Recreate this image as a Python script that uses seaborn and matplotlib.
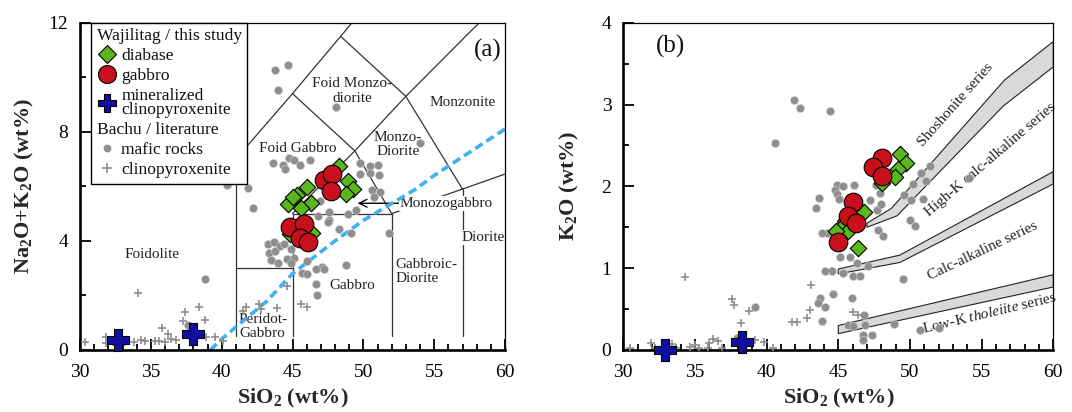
import numpy as np
import matplotlib
matplotlib.use("Agg")
import matplotlib.pyplot as plt
from matplotlib.lines import Line2D
import seaborn as sns

sns.set_theme(style="ticks")
plt.rcParams['font.family'] = ['Liberation Serif', 'DejaVu Serif']
plt.rcParams['mathtext.fontset'] = 'custom'
plt.rcParams['mathtext.rm'] = 'Liberation Serif'
plt.rcParams['mathtext.it'] = 'Liberation Serif:italic'
plt.rcParams['mathtext.bf'] = 'Liberation Serif:bold'

GREEN = '#5ab71f'
RED = '#c8101c'
BLUE = '#1010a0'
GRAY = '#8e8e8e'
LINE = '#333333'

# ---------------- panel (a) data: TAS ----------------
a_diabase_x = [48.25, 48.95, 49.3, 48.75, 44.7, 45.35, 46.05, 46.3, 45.6, 45.05, 46.4, 44.85]
a_diabase_y = [6.76, 6.2, 5.92, 5.73, 5.35, 5.69, 5.99, 5.38, 5.22, 5.6, 4.3, 4.25]
a_gabbro_x = [47.2, 47.8, 47.7, 44.8, 45.8, 45.55, 46.1]
a_gabbro_y = [6.25, 6.45, 5.82, 4.5, 4.62, 4.1, 3.95]
a_mincpx_x = [32.7, 38.0]
a_mincpx_y = [0.35, 0.6]
a_mafic_x = [43.8, 44.7, 43.95, 48.1, 54.0,
             40.4, 41.85, 42.2,
             43.6, 44.3, 44.45, 44.75, 45.1, 45.5, 46.2,
             49.8, 50.5, 51.05, 50.5, 49.8, 51.1, 50.6, 51.2, 50.75, 49.5, 48.95, 47.6,
             46.95, 47.6, 49.15, 48.3, 51.8, 46.8, 47.5,
             43.25, 43.7, 43.35, 43.8, 44.15, 44.4, 44.9, 44.6, 45.1, 43.5,
             47.1, 46.05, 44.0, 44.9, 45.65, 46.0, 46.65, 47.2, 48.75, 46.65, 46.7,
             38.8, 37.6, 45.0]
a_mafic_y = [10.25, 10.45, 9.53, 8.9, 7.6,
             6.05, 5.95, 5.2,
             6.85, 6.8, 6.62, 7.05, 6.98, 6.8, 6.98,
             6.85, 6.75, 6.8, 6.5, 6.45, 6.4, 5.85, 5.78, 5.62, 5.12, 5.0, 5.05,
             5.45, 4.75, 4.3, 4.45, 4.3, 4.9, 4.7,
             3.87, 3.97, 3.55, 3.64, 3.81, 3.9, 3.72, 3.33, 3.38, 3.3,
             3.05, 3.25, 3.2, 3.2, 2.84, 2.78, 2.96, 2.96, 3.1, 2.42, 2.03,
             2.6, 0.9, 4.28]
a_cpx_x = [30.35, 31.8, 31.8, 32.3, 33.2, 33.8, 34.3, 34.6, 35.3, 35.55, 35.8, 36.2,
           36.45, 36.0, 36.8, 34.1, 37.4, 38.4, 38.8, 37.25, 38.9, 39.5, 40.1,
           41.7, 42.6, 42.8, 43.9, 41.5, 45.6, 46.0, 44.6]
a_cpx_y = [0.28, 0.48, 0.25, 0.3, 0.3, 0.3, 0.36, 0.33, 0.32, 0.33, 0.8, 0.58,
           0.4, 0.3, 0.35, 2.1, 1.4, 1.57, 1.1, 1.05, 0.48, 0.46, 0.33,
           1.58, 1.68, 1.52, 1.55, 1.42, 1.7, 1.58, 2.35]

# Irvine & Baragar alkaline / subalkaline divide
ib_x = [39.2, 40, 43.2, 45, 48, 50, 53.7, 55, 60]
ib_y = [0, 0.4, 1.8, 2.8, 4, 4.75, 5.9, 6.4, 8.1]

# field boundaries (Middlemost 1994, plutonic)
tas_lines = [
    ([41, 41], [0.5, 7]),
    ([41, 45, 48.4, 49.2], [7, 9.4, 11.5, 12]),
    ([45, 49.4, 52], [9.4, 7.3, 5]),
    ([45, 49.4, 53, 57.6, 58.2], [5, 7.3, 9.3, 11.7, 12]),
    ([48.4, 53, 57, 60], [11.5, 9.3, 5.9, 6.45]),
    ([45, 45], [0.5, 5]),
    ([41, 45], [3, 3]),
    ([45, 52], [5, 5]),
    ([52, 52], [0.5, 5]),
    ([52, 57], [5, 5.9]),
    ([57, 57], [0.5, 5.9]),
]

# ---------------- panel (b) data: K2O vs SiO2 ----------------
b_diabase_x = [49.3, 49.7, 49.15, 48.95, 48.05, 46.4, 46.8, 45.5, 45.3, 45.7, 44.85, 46.4]
b_diabase_y = [2.39, 2.28, 2.21, 2.12, 2.04, 1.72, 1.69, 1.58, 1.52, 1.46, 1.45, 1.25]
b_gabbro_x = [48.05, 47.4, 48.05, 46.05, 45.7, 46.25, 45.0]
b_gabbro_y = [2.35, 2.24, 2.13, 1.81, 1.64, 1.55, 1.32]
b_mincpx_x = [32.9, 38.25]
b_mincpx_y = [0.0, 0.1]
b_mafic_x = [41.9, 42.3, 44.4, 40.6,
             51.4, 50.8, 51.1, 50.2, 54.1, 49.6, 50.1, 50.9, 50.0, 50.35,
             44.9, 45.3, 44.75, 44.9, 45.05, 46.1, 43.65, 43.45, 47.6, 47.9, 47.2,
             47.7, 48.0, 47.8, 48.1,
             44.2, 43.85, 45.1, 45.8, 46.3, 47.1, 44.55, 45.35, 46.05, 46.5, 49.5,
             44.6, 43.7, 43.55, 44.07, 43.84, 45.98, 45.7, 46.05, 46.8, 46.86, 46.74,
             47.33, 46.74, 48.9, 50.7, 52.0, 39.2, 37.9, 44.1]
b_mafic_y = [3.05, 2.96, 2.92, 2.53,
             2.25, 2.16, 2.07, 2.03, 2.1, 1.89, 1.83, 1.85, 1.59, 1.52,
             2.02, 2.01, 1.96, 1.91, 1.84, 2.02, 1.86, 1.73, 2.02, 1.92, 1.83,
             1.71, 1.79, 1.47, 1.39,
             1.43, 1.43, 1.14, 1.14, 1.06, 1.03, 0.96, 0.94, 0.9, 0.9, 0.87,
             0.69, 0.64, 0.57, 0.52, 0.35, 0.63, 0.31, 0.29, 0.43, 0.31, 0.18,
             0.18, 0.12, 0.32, 0.25, 0.27, 0.53, 0.15, 0.96]
b_cpx_x = [30.5, 31.9, 32.2, 33.4, 33.7, 34.3, 34.65, 35.0, 35.3, 35.9, 36.25, 36.6,
           36.9, 36.0, 37.6, 37.75, 38.8, 38.2, 39.2, 39.8, 40.45, 41.8, 42.1,
           42.8, 43.0, 43.1, 46.0, 46.4, 44.55]
b_cpx_y = [0.02, 0.08, 0.03, 0.07, 0.02, 0.89, 0.04, 0.06, 0.02, 0.03, 0.13, 0.11,
           0.03, 0.08, 0.62, 0.55, 0.48, 0.33, 0.12, 0.1, 0.02, 0.34, 0.34,
           0.39, 0.49, 0.8, 0.47, 0.43, 0.96]

# series boundary bands (upper edge, lower edge)
sho_up_x, sho_up_y = [47.0, 48.7, 56.6, 60], [1.55, 1.73, 3.3, 3.77]
sho_lo_x, sho_lo_y = [47.0, 49.1, 56.5, 60], [1.50, 1.64, 2.98, 3.46]
hk_up_x, hk_up_y = [45, 49.3, 60], [0.99, 1.16, 2.18]
hk_lo_x, hk_lo_y = [45, 49.3, 60], [0.93, 1.07, 2.03]
lk_up_x, lk_up_y = [45, 60], [0.30, 0.92]
lk_lo_x, lk_lo_y = [45, 60], [0.20, 0.77]
bands = [(sho_up_x, sho_up_y, sho_lo_x, sho_lo_y),
         (hk_up_x, hk_up_y, hk_lo_x, hk_lo_y),
         (lk_up_x, lk_up_y, lk_lo_x, lk_lo_y)]

fig = plt.figure(figsize=(10.72, 4.12), dpi=100)
ax_a = fig.add_axes([80 / 1072, 1 - 350 / 412, 425 / 1072, 327.3 / 412])
ax_b = fig.add_axes([623.3 / 1072, 1 - 350 / 412, 430 / 1072, 327.3 / 412])


def draw_samples(ax, mafic, cpx, diabase, gabbro, mincpx):
    sns.scatterplot(x=mafic[0], y=mafic[1], ax=ax, color=GRAY, s=34, marker='o',
                    edgecolor='#d0d0d0', linewidth=0.4, zorder=3, legend=False)
    sns.scatterplot(x=cpx[0], y=cpx[1], ax=ax, color=GRAY, s=40, marker='+',
                    linewidth=1.2, zorder=3, legend=False)
    sns.scatterplot(x=diabase[0], y=diabase[1], ax=ax, color=GREEN, s=70, marker='D',
                    edgecolor='black', linewidth=0.8, zorder=4, legend=False)
    sns.scatterplot(x=gabbro[0], y=gabbro[1], ax=ax, color=RED, s=180, marker='o',
                    edgecolor='black', linewidth=0.8, zorder=5, legend=False)
    sns.scatterplot(x=mincpx[0], y=mincpx[1], ax=ax, color=BLUE, s=260, marker='P',
                    edgecolor='black', linewidth=0.8, zorder=6, legend=False, clip_on=False)


def style_axes(ax, ymax, ymajor, yminor, ylabel, labelpad):
    ax.set_xlim(30, 60)
    ax.set_ylim(0, ymax)
    ax.set_xticks(np.arange(30, 61, 5))
    ax.set_xticks(np.arange(30, 61, 1), minor=True)
    ax.set_yticks(np.arange(0, ymax + 0.01, ymajor))
    ax.set_yticks(np.arange(0, ymax + 0.01, yminor), minor=True)
    ax.set_xticklabels([f'{v:g}' for v in np.arange(30, 61, 5)], fontfamily='Liberation Serif')
    ax.set_yticklabels([f'{v:g}' for v in np.arange(0, ymax + 0.01, ymajor)],
                       fontfamily='Liberation Serif')
    ax.tick_params(which='both', direction='in', width=1.3, colors='black',
                   labelsize=14, top=False, right=False)
    ax.tick_params(axis='x', pad=10)
    ax.tick_params(axis='y', pad=8.5)
    ax.tick_params(which='major', length=8)
    ax.tick_params(which='minor', length=4.5)
    for side in ['left', 'bottom']:
        ax.spines[side].set_linewidth(1.9)
    for side in ['top', 'right']:
        ax.spines[side].set_linewidth(0.9)
    for sp in ax.spines.values():
        sp.set_color('black')
    ax.set_xlabel(r'SiO$_\mathbf{2}$ (wt%)', fontsize=16, fontweight='bold', labelpad=4.5)
    ax.set_ylabel(ylabel, fontsize=16, fontweight='bold', labelpad=labelpad)
    ax.set_facecolor('white')


# ---------------- panel (a) ----------------
for xs, ys in tas_lines:
    ax_a.plot(xs, ys, color=LINE, lw=0.9, zorder=1)
ax_a.plot(ib_x, ib_y, color='#3fb0f0', lw=2.6, dashes=(2.4, 1.3), zorder=2.5)

draw_samples(ax_a, (a_mafic_x, a_mafic_y), (a_cpx_x, a_cpx_y),
             (a_diabase_x, a_diabase_y), (a_gabbro_x, a_gabbro_y),
             (a_mincpx_x, a_mincpx_y))

fkw = dict(fontsize=11, color='#222222', zorder=2)
ax_a.text(49.2, 9.5, 'Foid Monzo-\ndiorite', ha='center', va='center', linespacing=1.15, **fkw)
ax_a.text(57.0, 9.08, 'Monzonite', ha='center', va='center', **fkw)
ax_a.text(52.45, 7.55, 'Monzo-\nDiorite', ha='center', va='center', linespacing=1.1, **fkw)
ax_a.text(45.4, 7.4, 'Foid Gabbro', ha='center', va='center', **fkw)
ax_a.text(35.1, 3.5, 'Foidolite', ha='center', va='center', **fkw)
ax_a.text(42.9, 0.87, 'Peridot-\nGabbro', ha='center', va='center', linespacing=1.1, **fkw)
ax_a.text(49.2, 2.35, 'Gabbro', ha='center', va='center', **fkw)
ax_a.text(52.25, 2.87, 'Gabbroic-\nDiorite', ha='left', va='center', linespacing=1.1, **fkw)
ax_a.text(56.95, 4.12, 'Diorite', ha='left', va='center', fontsize=11, color='#222222',
          zorder=2, bbox=dict(facecolor='white', edgecolor='none', pad=0.5))
ax_a.annotate('Monozogabbro', xy=(49.6, 5.38), xytext=(52.55, 5.38), ha='left', va='center',
              fontsize=11, color='#222222', zorder=2,
              bbox=dict(facecolor='white', edgecolor='none', pad=0.5),
              arrowprops=dict(arrowstyle='->', color='black', lw=1.0, shrinkA=0, shrinkB=0,
                              mutation_scale=14))
ax_a.text(58.8, 11.0, '(a)', ha='center', va='center', fontsize=18, color='#111111')

style_axes(ax_a, 12, 4, 2, r'Na$_\mathbf{2}$O+K$_\mathbf{2}$O (wt%)', 9)

handles = [
    Line2D([], [], ls='none', label='Wajilitag / this study'),
    Line2D([], [], ls='none', marker='D', mfc=GREEN, mec='black', ms=9.2, mew=0.8, label='diabase'),
    Line2D([], [], ls='none', marker='o', mfc=RED, mec='black', ms=13, mew=0.8, label='gabbro'),
    Line2D([], [], ls='none', marker='P', mfc=BLUE, mec='black', ms=13.5, mew=0.8,
           label='mineralized\nclinopyroxenite'),
    Line2D([], [], ls='none', label='Bachu / literature'),
    Line2D([], [], ls='none', marker='o', mfc=GRAY, mec='none', ms=5.6, label='mafic rocks'),
    Line2D([], [], ls='none', marker='+', color=GRAY, ms=7, mew=1.2, label='clinopyroxenite'),
]
leg = ax_a.legend(handles=handles, loc='upper left', bbox_to_anchor=(0.027, 1.0),
                  borderaxespad=0, frameon=True, fancybox=False, edgecolor='black',
                  framealpha=1, fontsize=12.6, borderpad=0.3, labelspacing=0.22,
                  handletextpad=0.25, handlelength=1.15)
leg.get_frame().set_linewidth(1.0)
leg.set_zorder(10)
# header rows: drop the empty handle so the text starts at the left edge
rows = leg._legend_handle_box.get_children()[0].get_children()
for i in (0, 4):
    rows[i]._children = [rows[i]._children[1]]
for t in leg.get_texts():
    t.set_linespacing(0.85)
    t.set_color('#111111')

# ---------------- panel (b) ----------------
for ux, uy, lx, ly in bands:
    px = list(ux) + list(lx)[::-1]
    py = list(uy) + list(ly)[::-1]
    ax_b.fill(px, py, facecolor='#d9d9d9', edgecolor='#222222', lw=0.8, zorder=1)

draw_samples(ax_b, (b_mafic_x, b_mafic_y), (b_cpx_x, b_cpx_y),
             (b_diabase_x, b_diabase_y), (b_gabbro_x, b_gabbro_y),
             (b_mincpx_x, b_mincpx_y))

skw = dict(fontsize=11, color='#222222', ha='center', va='center', rotation_mode='anchor', zorder=2)
ax_b.text(53.2, 3.0, 'Shoshonite series', rotation=48.5, **skw)
ax_b.text(55.6, 2.33, 'High-K calc-alkaline series', rotation=40.5, **skw)
ax_b.text(55.1, 1.21, 'Calc-alkaline series', rotation=25.5, **skw)
ax_b.text(55.55, 0.45, r'Low-K $\mathit{tholeiite}$ series', rotation=13.5, **skw)
ax_b.text(33.3, 3.71, '(b)', ha='center', va='center', fontsize=18, color='#111111')

style_axes(ax_b, 4, 1, 0.5, r'K$_\mathbf{2}$O (wt%)', 15)

fig.savefig('out.png', dpi=100)
